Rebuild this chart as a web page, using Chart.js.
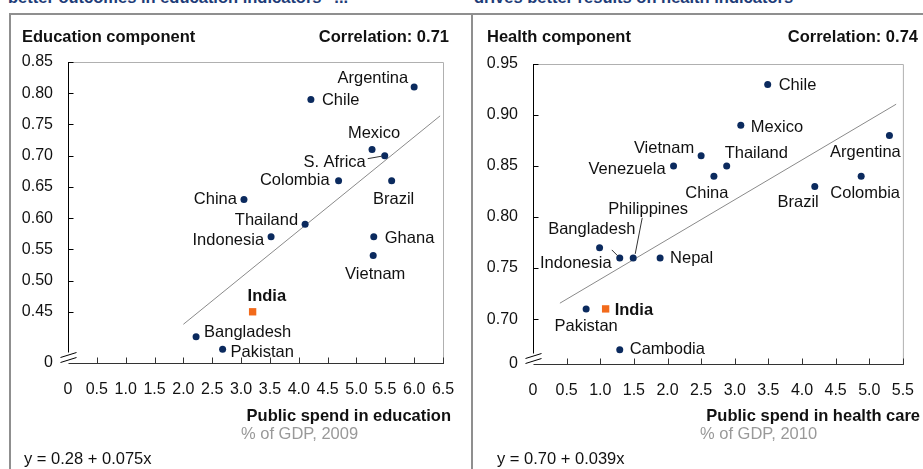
<!DOCTYPE html>
<html>
<head>
<meta charset="utf-8">
<script src="https://cdn.jsdelivr.net/npm/chart.js@4.4.1/dist/chart.umd.min.js"></script>
<style>
  body { margin: 0; background: #fff; width: 923px; height: 469px; overflow: hidden; position: relative;
         font-family: "Liberation Sans", Arial, sans-serif; color: #111; }
  .t { position: absolute; white-space: nowrap; line-height: 20px; font-size: 16.5px; }
  .b { font-weight: bold; }
  .r { text-align: right; }
  .head { color: #1d3c78; font-weight: bold; font-size: 16.5px; }
  .sub { color: #999; }
  canvas { position: absolute; top: 0; }
  .line { position: absolute; background: #8f8f8f; }
</style>
</head>
<body>
<div class="t head" style="left:8px;top:-13px">better outcomes in education indicators⁴ ...</div>
<div class="t head" style="left:474px;top:-13px">drives better results on health indicators</div>

<canvas id="edu" width="472" height="469" style="left:0;width:472px;height:469px"></canvas>
<canvas id="health" width="451" height="469" style="left:472px;width:451px;height:469px"></canvas>

<div class="line" style="left:9px;top:13px;width:914px;height:2px"></div>
<div class="line" style="left:9px;top:13px;width:2px;height:456px"></div>
<div class="line" style="left:471px;top:13px;width:2px;height:456px"></div>

<div class="t b" style="left:22px;top:26px">Education component</div>
<div class="t b r" style="left:250px;width:199px;top:26px">Correlation: 0.71</div>
<div class="t b r" style="left:150px;width:301px;top:405px">Public spend in education</div>
<div class="t sub" style="left:241px;top:423px">% of GDP, 2009</div>
<div class="t" style="left:24px;top:448px">y = 0.28 + 0.075x</div>

<div class="t b" style="left:487px;top:26px">Health component</div>
<div class="t b r" style="left:718px;width:200px;top:26px">Correlation: 0.74</div>
<div class="t b r" style="left:600px;width:320px;top:405px">Public spend in health care</div>
<div class="t sub" style="left:700px;top:423px">% of GDP, 2010</div>
<div class="t" style="left:497px;top:448px">y = 0.70 + 0.039x</div>

<script>
// Education: public spend (% of GDP, 2009) vs education component score
const EDU_COUNTRIES = ['Argentina', 'Chile', 'Mexico', 'S. Africa', 'Colombia', 'Brazil', 'China',
  'Thailand', 'Indonesia', 'Ghana', 'Vietnam', 'Bangladesh', 'Pakistan'];
const EDU_SPEND = [6.0, 4.21, 5.27, 5.49, 4.69, 5.61, 3.05, 4.11, 3.52, 5.3, 5.29, 2.22, 2.68];
const EDU_SCORE = [0.81, 0.79, 0.71, 0.70, 0.66, 0.66, 0.63, 0.59, 0.57, 0.57, 0.54, 0.41, 0.39];
const EDU_INDIA = [3.2, 0.45];
const EDU_FIT = [0.28, 0.075];        // intercept, slope
const EDU_FIT_RANGE = [2.0, 6.45];
const EDU_Y_TICKS = [0.45, 0.50, 0.55, 0.60, 0.65, 0.70, 0.75, 0.80, 0.85];

// Health: public spend (% of GDP, 2010) vs health component score
const HEALTH_COUNTRIES = ['Chile', 'Mexico', 'Vietnam', 'Venezuela', 'Thailand', 'China', 'Argentina',
  'Colombia', 'Brazil', 'Indonesia', 'Bangladesh', 'Philippines', 'Nepal', 'Pakistan', 'Cambodia'];
const HEALTH_SPEND = [3.49, 3.09, 2.5, 2.09, 2.88, 2.69, 5.3, 4.88, 4.19, 0.99, 1.29, 1.49, 1.89, 0.79, 1.29];
const HEALTH_SCORE = [0.93, 0.89, 0.86, 0.85, 0.85, 0.84, 0.88, 0.84, 0.83, 0.77, 0.76, 0.76, 0.76, 0.71, 0.67];
const HEALTH_INDIA = [1.08, 0.71];
const HEALTH_FIT = [0.70, 0.039];
const HEALTH_FIT_RANGE = [0.4, 5.4];
const HEALTH_Y_TICKS = [0.70, 0.75, 0.80, 0.85, 0.90, 0.95];

const NAVY = '#0b2a5e';
const ORANGE = '#f26a1b';

Chart.defaults.font.family = '"Liberation Sans", Arial, sans-serif';
Chart.defaults.font.size = 16;
Chart.defaults.color = '#111';

// label offsets from the dot: [dx, dy, align]
const EDU_LABEL_POS = {
  'Argentina': [-6, -9, 'right'], 'Chile': [11, 1, 'left'], 'Mexico': [2, -16, 'center'],
  'S. Africa': [-19, 7, 'right'], 'Colombia': [-9, 0, 'right'], 'Brazil': [2, 19, 'center'],
  'China': [-7, 0, 'right'], 'Thailand': [-7, -4, 'right'], 'Indonesia': [-7, 4, 'right'],
  'Ghana': [11, 2, 'left'], 'Vietnam': [2, 19, 'center'], 'India': [-5, -15, 'left'],
  'Bangladesh': [8, -4, 'left'], 'Pakistan': [8, 3, 'left']
};
const EDU_LEADERS = { 'S. Africa': [-17, 3, -3, 0.5] };

const HEALTH_LABEL_POS = {
  'Chile': [11, 1, 'left'], 'Mexico': [10, 2, 'left'], 'Vietnam': [-7, -7, 'right'],
  'Venezuela': [-8, 3, 'right'], 'Thailand': [-2, -13, 'left'], 'China': [-7, 17, 'center'],
  'Argentina': [-24, 17, 'center'], 'Colombia': [4, 17, 'center'], 'Brazil': [4, 16, 'right'],
  'Indonesia': [12, 16, 'right'], 'Bangladesh': [-28, -28, 'center'], 'Philippines': [15, -48, 'center'],
  'Nepal': [10, 1, 'left'], 'Pakistan': [0, 18, 'center'], 'India': [9, 2, 'left'],
  'Cambodia': [10, 0, 'left']
};
const HEALTH_LEADERS = { 'Bangladesh': [-8, -8, -2, -2], 'Philippines': [9, -40, 2, -4] };

// axis lines, inside ticks, light frame and the broken-axis mark
const axisDecor = {
  id: 'axisDecor',
  afterDatasetsDraw(chart) {
    const { ctx, chartArea: a, scales } = chart;
    const xs = scales.x, ys = scales.y;
    ctx.save();
    ctx.lineWidth = 1;
    ctx.strokeStyle = '#b0b0b0';
    ctx.beginPath();
    ctx.moveTo(a.left, a.top + 0.5); ctx.lineTo(a.right + 0.5, a.top + 0.5);
    ctx.lineTo(a.right + 0.5, a.bottom);
    ctx.stroke();

    ctx.strokeStyle = '#000';
    const ax = Math.round(a.left) + 0.5;
    const by = Math.round(a.bottom) + 0.5;
    ctx.beginPath();
    ctx.moveTo(ax, a.top); ctx.lineTo(ax, by - 8);
    ys.ticks.forEach(t => {
      if (t.value === ys.min) return;
      const y = Math.round(ys.getPixelForValue(t.value)) + 0.5;
      ctx.moveTo(ax, y); ctx.lineTo(ax + 5, y);
    });
    ctx.stroke();

    ctx.strokeStyle = '#333';
    ctx.beginPath();
    ctx.moveTo(ax, by); ctx.lineTo(a.right + 1, by);
    xs.ticks.forEach(t => {
      if (t.value === 0) return;
      const x = Math.round(xs.getPixelForValue(t.value)) + 0.5;
      ctx.moveTo(x, by); ctx.lineTo(x, by - 6);
    });
    ctx.stroke();

    // break mark
    ctx.fillStyle = '#fff';
    ctx.fillRect(ax - 8, by - 11, 16, 8);
    ctx.strokeStyle = '#000';
    ctx.beginPath();
    ctx.moveTo(ax - 8, by - 6); ctx.lineTo(ax + 8, by - 11);
    ctx.moveTo(ax - 8, by - 1); ctx.lineTo(ax + 8, by - 6);
    ctx.stroke();
    ctx.restore();
  }
};

// country names next to the dots
const pointLabels = {
  id: 'pointLabels',
  afterDatasetsDraw(chart, args, opts) {
    const { ctx } = chart;
    ctx.save();
    ctx.textBaseline = 'middle';
    chart.data.datasets.forEach((ds, di) => {
      if (!ds.names) return;
      const meta = chart.getDatasetMeta(di);
      meta.data.forEach((pt, i) => {
        const name = ds.names[i];
        const pos = opts.layout[name];
        if (!pos) return;
        ctx.font = (ds.bold ? 'bold ' : '') + '16.5px "Liberation Sans", Arial, sans-serif';
        ctx.fillStyle = '#111';
        ctx.textAlign = pos[2];
        ctx.fillText(name, pt.x + pos[0], pt.y + pos[1]);
        const lead = opts.leaders[name];
        if (lead) {
          ctx.strokeStyle = '#333';
          ctx.lineWidth = 1;
          ctx.beginPath();
          ctx.moveTo(pt.x + lead[0], pt.y + lead[1]);
          ctx.lineTo(pt.x + lead[2], pt.y + lead[3]);
          ctx.stroke();
        }
      });
    });
    ctx.restore();
  }
};

function makeChart(id, cfg) {
  const pts = cfg.spend.map((x, i) => ({ x, y: cfg.score[i] }));
  const fit = cfg.fitRange.map(x => ({ x, y: cfg.fit[0] + cfg.fit[1] * x }));
  return new Chart(document.getElementById(id), {
    type: 'scatter',
    data: {
      datasets: [
        {
          type: 'line', data: fit, borderColor: '#8a8a8a', borderWidth: 1,
          pointRadius: 0, fill: false, order: 3
        },
        {
          data: pts, names: cfg.names, backgroundColor: NAVY, borderWidth: 0,
          pointRadius: 3.5, pointHoverRadius: 3.5, order: 2
        },
        {
          data: [{ x: cfg.india[0], y: cfg.india[1] }], names: ['India'], bold: true,
          backgroundColor: ORANGE, borderWidth: 0, pointStyle: 'rect',
          pointRadius: 5.2, pointHoverRadius: 5.2, order: 1
        }
      ]
    },
    options: {
      responsive: false,
      animation: false,
      events: [],
      layout: { padding: cfg.padding },
      plugins: {
        legend: { display: false },
        tooltip: { enabled: false },
        pointLabels: { layout: cfg.labelPos, leaders: cfg.leaders }
      },
      scales: {
        x: {
          type: 'linear', min: 0, max: cfg.xMax,
          grid: { display: false },
          border: { display: false },
          ticks: {
            stepSize: 0.5, autoSkip: false, maxRotation: 0, padding: 9,
            font: { size: 16 },
            callback: v => v === 0 ? '0' : v.toFixed(1)
          },
          afterFit: s => { s.height = 40; }
        },
        y: {
          type: 'linear', min: cfg.yMin, max: cfg.yMax,
          grid: { display: false },
          border: { display: false },
          afterBuildTicks: s => {
            s.ticks = [{ value: cfg.yMin }].concat(cfg.yTicks.map(v => ({ value: v })));
          },
          ticks: {
            padding: 7, font: { size: 16 },
            callback: v => v === cfg.yMin ? '0' : v.toFixed(2)
          },
          afterFit: s => { s.width = 58; }
        }
      }
    },
    plugins: [axisDecor, pointLabels]
  });
}

makeChart('edu', {
  names: EDU_COUNTRIES, spend: EDU_SPEND, score: EDU_SCORE, india: EDU_INDIA,
  fit: EDU_FIT, fitRange: EDU_FIT_RANGE, yTicks: EDU_Y_TICKS,
  xMax: 6.5, yMin: 0.368, yMax: 0.85,
  padding: { left: 10, top: 62, right: 29, bottom: 66 },
  labelPos: EDU_LABEL_POS, leaders: EDU_LEADERS
});

makeChart('health', {
  names: HEALTH_COUNTRIES, spend: HEALTH_SPEND, score: HEALTH_SCORE, india: HEALTH_INDIA,
  fit: HEALTH_FIT, fitRange: HEALTH_FIT_RANGE, yTicks: HEALTH_Y_TICKS,
  xMax: 5.5, yMin: 0.656, yMax: 0.95,
  padding: { left: 3, top: 64, right: 16, bottom: 65 },
  labelPos: HEALTH_LABEL_POS, leaders: HEALTH_LEADERS
});
</script>
</body>
</html>
